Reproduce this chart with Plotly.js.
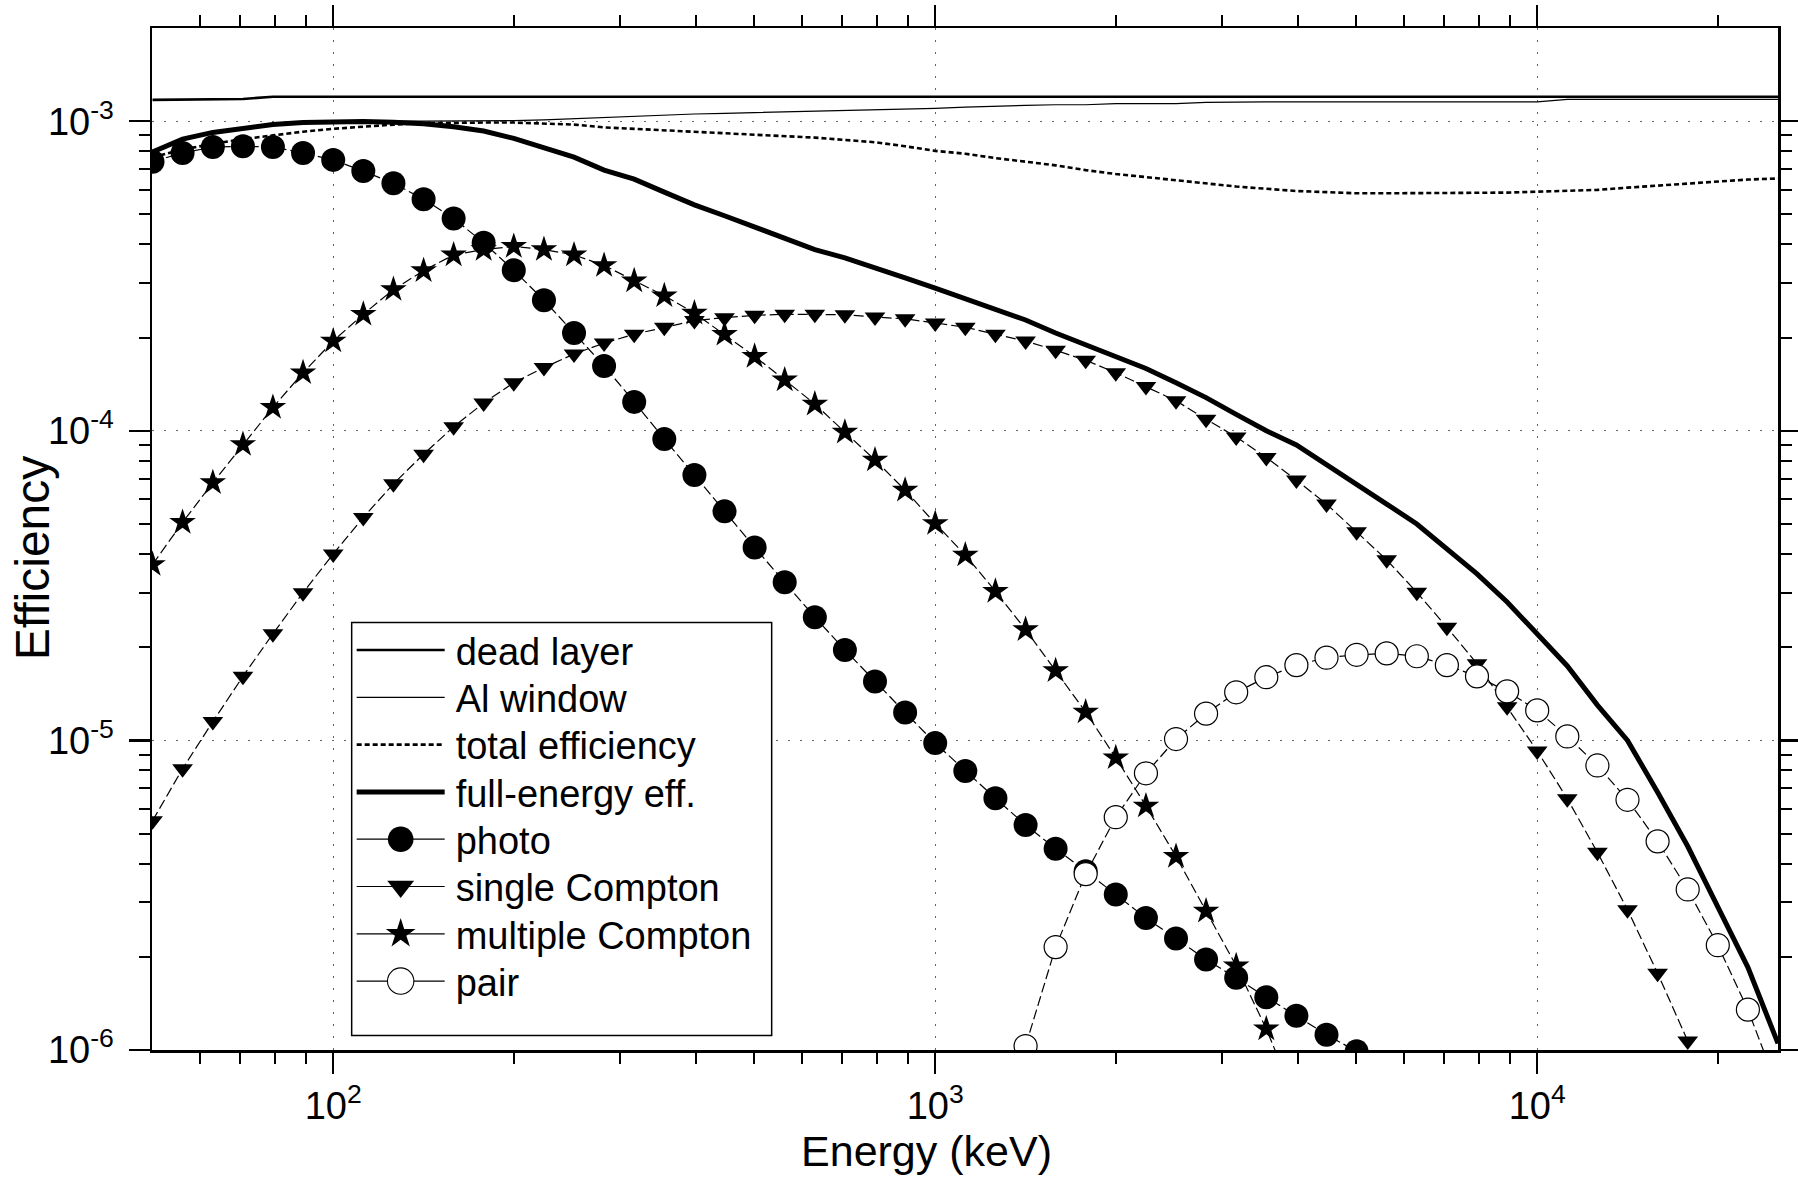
<!DOCTYPE html>
<html>
<head>
<meta charset="utf-8">
<script src="https://cdn.plot.ly/plotly-3.0.1.min.js"></script>
<style>
  html, body { margin: 0; padding: 0; background: #fff; }
  #chart { width: 1798px; height: 1182px; }
</style>
</head>
<body>
<div id="chart"></div>
<script>
// ---------- data ----------
const energy = [50.1, 56.2, 63.1, 70.8, 79.4, 89.1, 100, 112.2, 125.9, 141.3,
  158.5, 177.8, 199.5, 223.9, 251.2, 281.8, 316.2, 354.8, 398.1, 446.7,
  501.2, 562.3, 631, 707.9, 794.3, 891.3, 1000, 1122, 1259, 1413,
  1585, 1778, 1995, 2239, 2512, 2818, 3162, 3548, 3981, 4467,
  5012, 5623, 6310, 7079, 7943, 8913, 10000, 11220, 12589, 14125,
  15849, 17783, 19953, 22387, 25119];

const deadLayer = [1.172e-3, 1.176e-3, 1.178e-3, 1.18e-3, 1.2e-3, 1.2e-3, 1.2e-3, 1.2e-3, 1.2e-3, 1.2e-3,
  1.2e-3, 1.2e-3, 1.2e-3, 1.2e-3, 1.2e-3, 1.2e-3, 1.2e-3, 1.2e-3, 1.2e-3, 1.2e-3,
  1.2e-3, 1.2e-3, 1.2e-3, 1.2e-3, 1.2e-3, 1.2e-3, 1.2e-3, 1.2e-3, 1.2e-3, 1.2e-3,
  1.2e-3, 1.2e-3, 1.2e-3, 1.2e-3, 1.2e-3, 1.2e-3, 1.2e-3, 1.2e-3, 1.2e-3, 1.2e-3,
  1.2e-3, 1.2e-3, 1.2e-3, 1.2e-3, 1.2e-3, 1.2e-3, 1.2e-3, 1.2e-3, 1.2e-3, 1.2e-3,
  1.2e-3, 1.2e-3, 1.2e-3, 1.2e-3, 1.2e-3];

const alWindow = [7.95e-4, 8.7e-4, 9.15e-4, 9.5e-4, 9.75e-4, 9.9e-4, 9.97e-4, 1.0e-3, 1.0e-3, 1.0e-3,
  1.0e-3, 1.0e-3, 1.005e-3, 1.01e-3, 1.02e-3, 1.03e-3, 1.04e-3, 1.05e-3, 1.055e-3, 1.06e-3,
  1.065e-3, 1.075e-3, 1.08e-3, 1.085e-3, 1.09e-3, 1.095e-3, 1.10e-3, 1.11e-3, 1.12e-3, 1.125e-3,
  1.13e-3, 1.13e-3, 1.14e-3, 1.14e-3, 1.14e-3, 1.15e-3, 1.155e-3, 1.155e-3, 1.155e-3, 1.155e-3,
  1.155e-3, 1.155e-3, 1.155e-3, 1.155e-3, 1.155e-3, 1.155e-3, 1.155e-3, 1.177e-3, 1.177e-3, 1.177e-3,
  1.177e-3, 1.177e-3, 1.177e-3, 1.177e-3, 1.177e-3];

const totalEff = [7.65e-4, 8.1e-4, 8.45e-4, 8.75e-4, 9.0e-4, 9.25e-4, 9.45e-4, 9.6e-4, 9.75e-4, 9.85e-4,
  9.9e-4, 9.9e-4, 9.9e-4, 9.85e-4, 9.75e-4, 9.55e-4, 9.45e-4, 9.35e-4, 9.25e-4, 9.15e-4,
  9.05e-4, 8.95e-4, 8.85e-4, 8.7e-4, 8.55e-4, 8.3e-4, 8.02e-4, 7.85e-4, 7.6e-4, 7.4e-4,
  7.2e-4, 6.95e-4, 6.75e-4, 6.6e-4, 6.45e-4, 6.3e-4, 6.15e-4, 6.05e-4, 5.95e-4, 5.9e-4,
  5.85e-4, 5.85e-4, 5.85e-4, 5.85e-4, 5.85e-4, 5.88e-4, 5.92e-4, 5.95e-4, 6.0e-4, 6.1e-4,
  6.2e-4, 6.3e-4, 6.4e-4, 6.48e-4, 6.53e-4];

const fullEnergy = [7.95e-4, 8.75e-4, 9.2e-4, 9.5e-4, 9.75e-4, 9.9e-4, 9.95e-4, 9.97e-4, 9.93e-4, 9.82e-4,
  9.6e-4, 9.3e-4, 8.8e-4, 8.2e-4, 7.65e-4, 6.95e-4, 6.5e-4, 5.9e-4, 5.37e-4, 4.95e-4,
  4.55e-4, 4.2e-4, 3.85e-4, 3.62e-4, 3.37e-4, 3.12e-4, 2.89e-4, 2.67e-4, 2.45e-4, 2.28e-4,
  2.07e-4, 1.89e-4, 1.73e-4, 1.59e-4, 1.43e-4, 1.28e-4, 1.13e-4, 1.0e-4, 9.0e-5, 7.8e-5,
  6.7e-5, 5.8e-5, 5.0e-5, 4.15e-5, 3.45e-5, 2.8e-5, 2.2e-5, 1.74e-5, 1.30e-5, 1.0e-5,
  6.8e-6, 4.55e-6, 2.9e-6, 1.85e-6, 1.05e-6];

const photoE = energy.slice(0, 41);
const photo = [7.4e-4, 7.9e-4, 8.25e-4, 8.3e-4, 8.25e-4, 7.9e-4, 7.5e-4, 6.9e-4, 6.3e-4, 5.6e-4,
  4.85e-4, 4.05e-4, 3.3e-4, 2.64e-4, 2.07e-4, 1.62e-4, 1.24e-4, 9.4e-5, 7.2e-5, 5.5e-5,
  4.2e-5, 3.24e-5, 2.5e-5, 1.96e-5, 1.55e-5, 1.23e-5, 9.8e-6, 7.97e-6, 6.5e-6, 5.33e-6,
  4.47e-6, 3.78e-6, 3.18e-6, 2.67e-6, 2.29e-6, 1.96e-6, 1.71e-6, 1.48e-6, 1.29e-6, 1.12e-6,
  0.99e-6];

const singleE = energy.slice(0, 52);
const singleCompton = [5.5e-6, 8.1e-6, 1.15e-5, 1.61e-5, 2.21e-5, 3.0e-5, 4.0e-5, 5.25e-5, 6.74e-5, 8.4e-5,
  1.03e-4, 1.23e-4, 1.43e-4, 1.6e-4, 1.77e-4, 1.92e-4, 2.05e-4, 2.16e-4, 2.27e-4, 2.32e-4,
  2.36e-4, 2.38e-4, 2.38e-4, 2.37e-4, 2.33e-4, 2.3e-4, 2.23e-4, 2.16e-4, 2.05e-4, 1.95e-4,
  1.82e-4, 1.69e-4, 1.54e-4, 1.39e-4, 1.25e-4, 1.09e-4, 9.55e-5, 8.2e-5, 6.93e-5, 5.8e-5,
  4.72e-5, 3.83e-5, 3.01e-5, 2.32e-5, 1.77e-5, 1.285e-5, 9.25e-6, 6.48e-6, 4.35e-6, 2.84e-6,
  1.77e-6, 1.07e-6];

const multipleE = energy.slice(0, 39);
const multipleCompton = [3.7e-5, 5.06e-5, 6.8e-5, 9.03e-5, 1.19e-4, 1.54e-4, 1.95e-4, 2.38e-4, 2.86e-4, 3.29e-4,
  3.7e-4, 3.85e-4, 3.94e-4, 3.85e-4, 3.7e-4, 3.42e-4, 3.05e-4, 2.73e-4, 2.4e-4, 2.05e-4,
  1.74e-4, 1.46e-4, 1.22e-4, 9.9e-5, 8.05e-5, 6.43e-5, 5.02e-5, 3.97e-5, 3.03e-5, 2.28e-5,
  1.68e-5, 1.235e-5, 8.79e-6, 6.14e-6, 4.22e-6, 2.81e-6, 1.87e-6, 1.17e-6, 6.8e-7];

const pairE = energy.slice(29);
const pair = [1.03e-6, 2.15e-6, 3.7e-6, 5.65e-6, 7.83e-6, 1.01e-5, 1.22e-5, 1.43e-5, 1.6e-5, 1.75e-5,
  1.85e-5, 1.89e-5, 1.91e-5, 1.87e-5, 1.75e-5, 1.61e-5, 1.44e-5, 1.25e-5, 1.03e-5, 8.3e-6,
  6.43e-6, 4.72e-6, 3.3e-6, 2.18e-6, 1.35e-6, 7.5e-7];

// ---------- axis ticks ----------
const xTickVals = [100, 1000, 10000];
const xTickText = ['10<sup>2</sup>', '10<sup>3</sup>', '10<sup>4</sup>'];
const xMinorVals = [60, 70, 80, 90, 200, 300, 400, 500, 600, 700, 800, 900,
  2000, 3000, 4000, 5000, 6000, 7000, 8000, 9000, 20000];
const yTickVals = [1e-6, 1e-5, 1e-4, 1e-3];
const yTickText = ['10<sup>-6</sup>', '10<sup>-5</sup>', '10<sup>-4</sup>', '10<sup>-3</sup>'];
const yMinorVals = [2e-6, 3e-6, 4e-6, 5e-6, 6e-6, 7e-6, 8e-6, 9e-6,
  2e-5, 3e-5, 4e-5, 5e-5, 6e-5, 7e-5, 8e-5, 9e-5,
  2e-4, 3e-4, 4e-4, 5e-4, 6e-4, 7e-4, 8e-4, 9e-4];

// ---------- traces ----------
const markerLine = {color: 'black', width: 1.2, dash: '10px,4px'};
const traces = [
  {name: 'dead layer', x: energy, y: deadLayer, mode: 'lines',
   line: {color: 'black', width: 2.6}},
  {name: 'Al window', x: energy, y: alWindow, mode: 'lines',
   line: {color: 'black', width: 1.2}},
  {name: 'total efficiency', x: energy, y: totalEff, mode: 'lines',
   line: {color: 'black', width: 2.6, dash: '5px,3px'}},
  {name: 'full-energy eff.', x: energy, y: fullEnergy, mode: 'lines',
   line: {color: 'black', width: 5}},
  {name: 'photo', x: photoE, y: photo, mode: 'lines+markers', line: markerLine,
   marker: {symbol: 'circle', size: 24, color: 'black', line: {width: 0}}},
  {name: 'single Compton', x: singleE, y: singleCompton, mode: 'lines+markers', line: markerLine,
   marker: {symbol: 'triangle-down', size: 18, color: 'black', line: {width: 0}}},
  {name: 'multiple Compton', x: multipleE, y: multipleCompton, mode: 'lines+markers', line: markerLine,
   marker: {symbol: 'star', size: 20, color: 'black', line: {width: 0}}},
  {name: 'pair', x: pairE, y: pair, mode: 'lines+markers', line: markerLine,
   marker: {symbol: 'circle', size: 23, color: 'white', line: {width: 1.2, color: 'black'}}}
];
traces.forEach(t => { t.type = 'scatter'; t.cliponaxis = true; });

const font = 'Liberation Sans, Arial, sans-serif';
const axisCommon = {
  type: 'log', showline: true, linewidth: 2.5, linecolor: 'black', mirror: 'allticks',
  ticks: 'outside', ticklen: 21, tickwidth: 2.5, tickcolor: 'black',
  showgrid: true, gridcolor: '#666', gridwidth: 1, griddash: '2px,10px',
  zeroline: false, tickmode: 'array', tickfont: {family: font, size: 38, color: 'black'}
};

const layout = {
  width: 1798, height: 1182,
  margin: {l: 152, r: 20, t: 28, b: 132},
  paper_bgcolor: 'white', plot_bgcolor: 'white',
  font: {family: font, color: 'black'},
  showlegend: true,
  xaxis: Object.assign({}, axisCommon, {
    range: [Math.log10(50), Math.log10(25119)],
    tickvals: xTickVals, ticktext: xTickText,
    minor: {tickmode: 'array', tickvals: xMinorVals, ticks: 'outside', ticklen: 11, tickwidth: 2, tickcolor: 'black', showgrid: false},
    title: {text: 'Energy (keV)', font: {family: font, size: 43, color: 'black'}, standoff: 10}
  }),
  yaxis: Object.assign({}, axisCommon, {
    range: [-6, Math.log10(2e-3)],
    tickvals: yTickVals, ticktext: yTickText, ticklabelstandoff: 7,
    minor: {tickmode: 'array', tickvals: yMinorVals, ticks: 'outside', ticklen: 11, tickwidth: 2, tickcolor: 'black', showgrid: false},
    title: {text: 'Efficiency', font: {family: font, size: 48, color: 'black'}, standoff: 10}
  }),
  legend: {
    x: 0.1228, y: 0.41, xanchor: 'left', yanchor: 'top',
    bgcolor: 'rgba(0,0,0,0)', borderwidth: 0, itemwidth: 94,
    font: {family: font, size: 38, color: 'black'}, tracegroupgap: 0
  },
  shapes: [{
    type: 'rect', xref: 'paper', yref: 'paper', layer: 'above',
    x0: 0.1228, x1: 0.3811, y0: 0.0142, y1: 0.4183,
    line: {color: 'black', width: 1.5}, fillcolor: 'white'
  }]
};

// legend-symbol styling (sizes / placement only)
const legendMarkerScale = [1, 1, 1, 1, 1.6, 1.45, 1.4, 1.65];
const legendRowTop = 650;     // px, centre of first legend row
const legendRowStep = 47.3;   // px between legend rows
const xTitleCentreX = 926.5;  // px, centre of x title in reference
const yTitleCentre = [32, 558]; // px, centre of y title in reference

function shiftBy(el, dx, dy) {
  const tr = el.getAttribute('transform') || '';
  el.setAttribute('transform', (tr + ' translate(' + dx + ',' + dy + ')').trim());
}

Plotly.newPlot('chart', traces, layout, {staticPlot: true}).then(gd => {
  const items = Array.from(gd.querySelectorAll('.legend g.traces'));
  items.forEach((g, i) => {
    g.querySelectorAll('.legendlines path').forEach(p => {
      p.setAttribute('d', 'M5,0h88');
      if (i >= 4) p.style.strokeDasharray = 'none';
    });
    g.querySelectorAll('.legendpoints path.scatterpts').forEach(p => {
      const s = legendMarkerScale[i] || 1;
      p.setAttribute('transform', 'translate(49,0) scale(' + s + ')');
      if (i === 7) p.style.strokeWidth = (1.1 / s) + 'px';
    });
  });
  // even row spacing as in the reference legend
  items.forEach((g, i) => {
    const line = g.querySelector('.legendlines path');
    if (!line) return;
    const r = line.getBoundingClientRect();
    const cy = r.top + r.height / 2;
    const target = legendRowTop + i * legendRowStep;
    const tr = g.getAttribute('transform') || '';
    const m = /translate\(\s*([-\d.e]+)[\s,]+([-\d.e]+)\s*\)/.exec(tr);
    if (m) {
      g.setAttribute('transform', 'translate(' + m[1] + ',' + (parseFloat(m[2]) + target - cy) + ')');
    }
  });
  // axis-title placement as in the reference
  const xt = gd.querySelector('.g-xtitle');
  if (xt) {
    const r = xt.getBoundingClientRect();
    shiftBy(xt, xTitleCentreX - (r.left + r.width / 2), 0);
  }
  const yt = gd.querySelector('.g-ytitle');
  if (yt) {
    const r = yt.getBoundingClientRect();
    shiftBy(yt, yTitleCentre[0] - (r.left + r.width / 2), yTitleCentre[1] - (r.top + r.height / 2));
  }
});
</script>
</body>
</html>
